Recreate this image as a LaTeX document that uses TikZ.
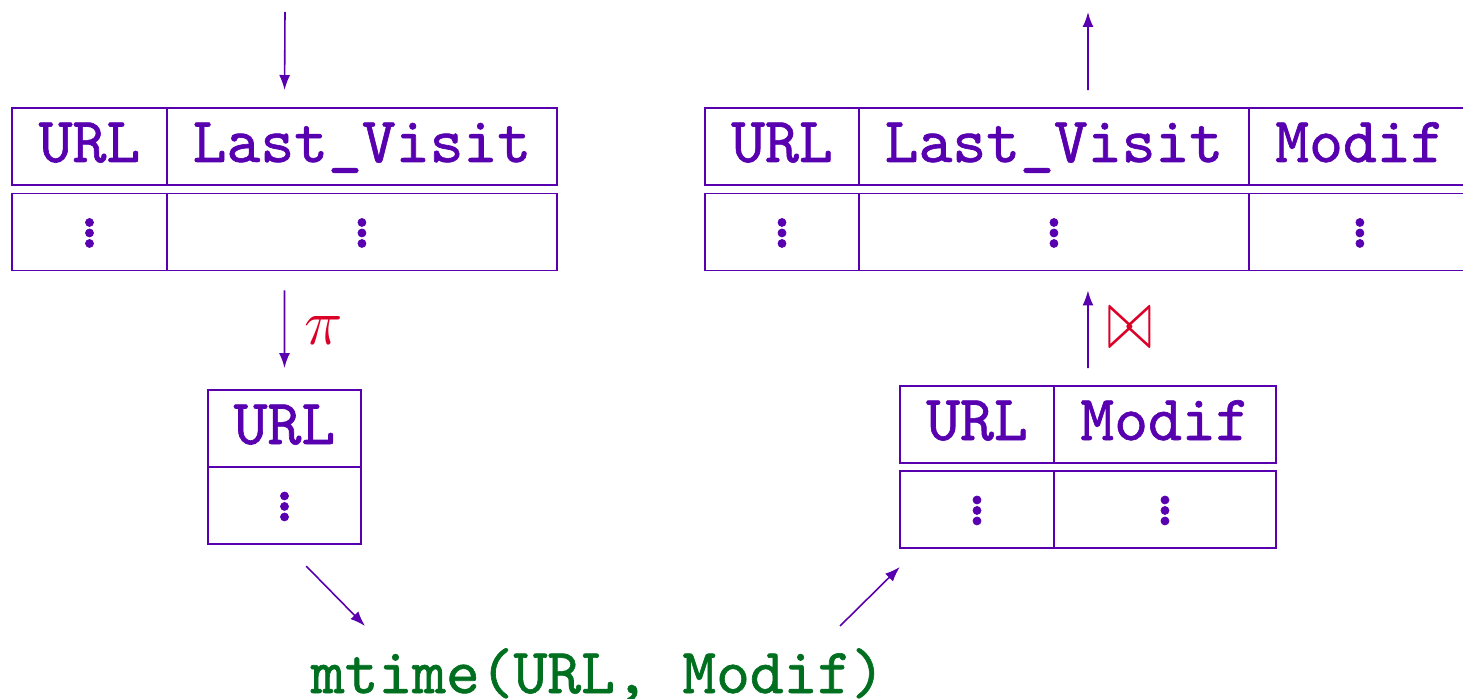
\documentclass[tikz,border=0pt]{standalone}
\usepackage{fix-cm}
\usepackage{graphicx}
\usepackage{fontspec}
\setmonofont{lmmono10-regular.otf}[FakeBold=1]
\usepackage{xcolor}
\usepackage{tikz}
\usetikzlibrary{arrows.meta,positioning,fit}

\definecolor{relpurple}{RGB}{88,0,176}
\definecolor{oppred}{RGB}{218,0,40}
\definecolor{fngreen}{RGB}{0,112,32}
\newcommand{\rowdots}{\vbox{\baselineskip=0.21cm\lineskiplimit=-1cm\hbox{.}\hbox{.}\hbox{.}}}

\tikzset{
	cell/.style={draw=relpurple, text=relpurple, inner sep=0pt, outer sep=0pt, minimum height=1.54cm, text height=0.8cm, text depth=0.18cm, font=\fontsize{36.7}{42}\selectfont\ttfamily},
	flow/.style={draw=relpurple, -{Latex[length=0.3cm,width=0.22cm]}},
	oplabel/.style={text=oppred, right, inner sep=0pt, xshift=0.38cm, font=\fontsize{37}{42}\selectfont},
	box/.style={inner sep=0pt, outer sep=0pt},
}

\begin{document}
\begin{tikzpicture}[x=0.02cm, y=-0.02cm, line width=0.9pt]
	\useasboundingbox (0,0) rectangle (1463,699);
	\clip (0,0) rectangle (1463,699);
	% Tables:
	\node[cell, minimum width=3.1cm] (visitsUrl) at (89.5,146.5) {URL};
	\node[cell, minimum width=7.8cm, right=0pt of visitsUrl] (visitsLast) {Last\_Visit};
	\node[cell, minimum width=3.1cm] (visitsUrlDots) at (89.5,232) {\rowdots};
	\node[cell, minimum width=7.8cm, right=0pt of visitsUrlDots] (visitsLastDots) {\rowdots};
	\node[box, fit=(visitsUrl)(visitsLastDots)] (visits) {};

	\node[cell, minimum width=3.06cm] (urlsUrl) at (284.5,428.5) {URL};
	\node[cell, minimum width=3.06cm, below=0pt of urlsUrl] (urlsDots) {\rowdots};
	\node[box, fit=(urlsUrl)(urlsDots)] (urls) {};

	\node[cell, minimum width=3.08cm] (joinedUrl) at (977,424.5) {URL};
	\node[cell, minimum width=4.44cm, right=0pt of joinedUrl] (joinedModif) {Modif};
	\node[cell, minimum width=3.08cm] (joinedUrlDots) at (977,509.5) {\rowdots};
	\node[cell, minimum width=4.44cm, right=0pt of joinedUrlDots] (joinedModifDots) {\rowdots};
	\node[box, fit=(joinedUrl)(joinedModifDots)] (joined) {};

	\node[cell, minimum width=3.08cm] (resultUrl) at (782,146.5) {URL};
	\node[cell, minimum width=7.8cm, right=0pt of resultUrl] (resultLast) {Last\_Visit};
	\node[cell, minimum width=4.44cm, right=0pt of resultLast] (resultModif) {Modif};
	\node[cell, minimum width=3.08cm] (resultUrlDots) at (782,232) {\rowdots};
	\node[cell, minimum width=7.8cm, right=0pt of resultUrlDots] (resultLastDots) {\rowdots};
	\node[cell, minimum width=4.44cm, right=0pt of resultLastDots] (resultModifDots) {\rowdots};
	\node[box, fit=(resultUrl)(resultModifDots)] (result) {};

	\node[box, anchor=base, text=fngreen, font=\fontsize{36.6}{42}\selectfont\ttfamily] (mtime) at (598,693) {mtime(URL, Modif)};

	% Arrows:
	\coordinate (src) at (285,12);
	\coordinate (sink) at (1088,12);
	\coordinate (mtimeIn) at (365,626);
	\coordinate (mtimeOut) at (840,626);
	\draw[flow, shorten >=0.36cm] (src) -- (visits.north);
	\draw[flow, shorten <=0.4cm, shorten >=0.44cm] (visits.south) -- (urls.north) node[oplabel, midway] {$\pi$};
	\draw[flow, shorten <=0.62cm] (urls.south) -- (mtimeIn);
	\draw[flow, shorten >=0.54cm] (mtimeOut) -- ([xshift=0.38cm]joined.south west);
	\draw[flow, shorten <=0.36cm, shorten >=0.4cm] (joined.north) -- (result.south) node[oplabel, midway] {\scalebox{0.84}[1.33]{$\bowtie$}};
	\draw[flow, shorten <=0.36cm] (result.north) -- (sink);
\end{tikzpicture}
\end{document}
